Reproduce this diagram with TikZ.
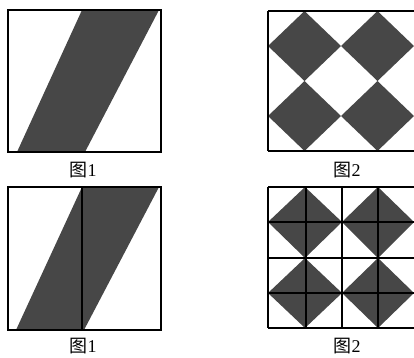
\documentclass[tikz,border=0pt]{standalone}
\usepackage{fontspec}
\setmainfont{Liberation Serif}
\newfontfamily\cjk{Noto Sans CJK SC}
\begin{document}
\begin{tikzpicture}[x=1pt,y=-1pt,
  frame/.style={draw=black,line width=1.4pt},
  shade/.style={fill=black!72},
  gridline/.style={draw=black,line width=1.3pt},
  captext/.style={font=\fontsize{18}{18}\selectfont,inner sep=0pt}]
\useasboundingbox (0,0) rectangle (414,357);
% top-left figure 1
\fill[shade] (82,10) -- (159,10) -- (85,152) -- (17,152) -- cycle;
\draw[frame] (8,10) rectangle (161,152);
\node[captext] (c1) at (83,170) {{\cjk 图}1};
% top-right figure 2
\fill[shade] (268,46) -- (304.5,11) -- (341,46) -- (304.5,81) -- cycle;
\fill[shade] (341,46) -- (377.5,11) -- (414,46) -- (377.5,81) -- cycle;
\fill[shade] (268,116) -- (304.5,81) -- (341,116) -- (304.5,151) -- cycle;
\fill[shade] (341,116) -- (377.5,81) -- (414,116) -- (377.5,151) -- cycle;
\draw[frame] (268,11) -- (415,11) (268,151) -- (415,151) (268,11) -- (268,151);
\node[captext] (c2) at (347,170) {{\cjk 图}2};
% bottom-left figure 1
\fill[shade] (82,187) -- (159,187) -- (84,330) -- (16,330) -- cycle;
\draw[gridline] (82,187) -- (82,330);
\draw[frame] (8,187) rectangle (161,330);
\node[captext] (c3) at (83,346) {{\cjk 图}1};
% bottom-right figure 2
\fill[shade] (268,222) -- (305,187) -- (342,222) -- (305,258) -- cycle;
\fill[shade] (342,222) -- (378,187) -- (414,222) -- (378,258) -- cycle;
\fill[shade] (268,293) -- (305,258) -- (342,293) -- (305,328) -- cycle;
\fill[shade] (342,293) -- (378,258) -- (414,293) -- (378,328) -- cycle;
\draw[gridline] (306,187) -- (306,328) (342,187) -- (342,328) (378,187) -- (378,328);
\draw[gridline] (268,222) -- (415,222) (268,258) -- (415,258) (268,293) -- (415,293);
\draw[frame] (268,187) -- (415,187) (268,328) -- (415,328) (268,187) -- (268,328);
\node[captext] (c4) at (347,346) {{\cjk 图}2};
\end{tikzpicture}
\end{document}
